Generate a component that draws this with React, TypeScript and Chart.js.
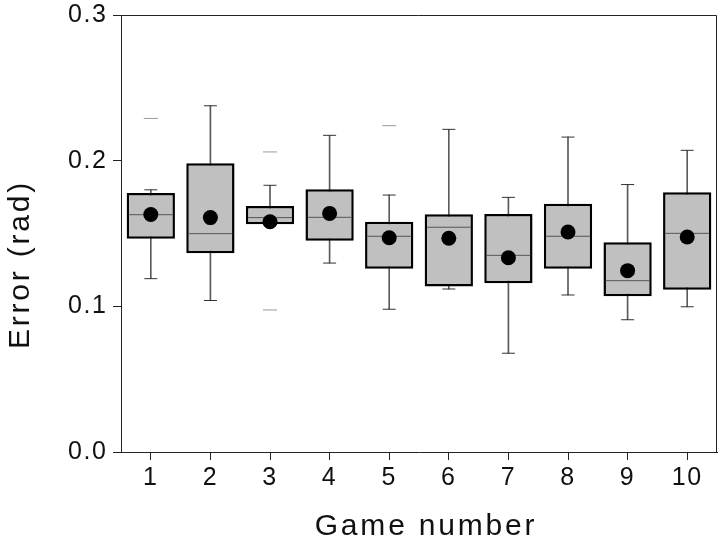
import React, { useEffect, useRef } from 'react';
import { Chart, registerables } from 'chart.js';

Chart.register(...registerables);

// ---- data ----
const games = ['1', '2', '3', '4', '5', '6', '7', '8', '9', '10'];
const whiskerLow = [0.119, 0.104, 0.1563, 0.1297, 0.098, 0.1119, 0.0678, 0.1078, 0.0908, 0.0997];
const q1 = [0.1464, 0.1364, 0.1563, 0.1451, 0.1258, 0.1137, 0.1158, 0.1258, 0.1069, 0.1114];
const medians = [0.1629, 0.1499, 0.1609, 0.1611, 0.1481, 0.1543, 0.135, 0.1481, 0.1176, 0.1501];
const q3 = [0.1778, 0.1982, 0.1689, 0.1803, 0.1581, 0.1632, 0.1634, 0.1705, 0.144, 0.1783];
const whiskerHigh = [0.18, 0.2377, 0.1831, 0.2174, 0.1764, 0.2215, 0.1748, 0.2162, 0.1836, 0.2071];
const means = [0.163, 0.1609, 0.1581, 0.1638, 0.1471, 0.1467, 0.1334, 0.151, 0.1245, 0.1476];
const outlierGames = ['1', '3', '3', '5'];
const outlierValues = [0.229, 0.206, 0.0975, 0.224];
const yMin = 0;
const yMax = 0.3;
const yStep = 0.1;
const xTitle = 'Game number';
const yTitle = 'Error (rad)';

const FONT = '"Liberation Sans", Arial, Helvetica, sans-serif';

export default function App() {
  const ref = useRef<HTMLCanvasElement | null>(null);

  useEffect(() => {
    document.body.style.margin = '0';
    const canvas = ref.current;
    if (!canvas) return;

    const framePlugin = {
      id: 'frameAndTitles',
      beforeDraw(chart: any) {
        const ctx = chart.ctx;
        ctx.fillStyle = '#ffffff';
        ctx.fillRect(0, 0, chart.width, chart.height);
        (ctx as any).letterSpacing = '1.6px';
      },
      afterDraw(chart: any) {
        const ctx = chart.ctx;
        const a = chart.chartArea;
        (ctx as any).letterSpacing = '0px';
        ctx.save();
        ctx.strokeStyle = '#222';
        ctx.lineWidth = 1;
        ctx.beginPath();
        ctx.moveTo(a.left, a.top + 0.5);
        ctx.lineTo(a.right - 0.5, a.top + 0.5);
        ctx.lineTo(a.right - 0.5, a.bottom);
        ctx.stroke();
        ctx.restore();

        ctx.save();
        ctx.fillStyle = '#111';
        ctx.font = '30px ' + FONT;
        (ctx as any).letterSpacing = '2.8px';
        ctx.textAlign = 'center';
        ctx.textBaseline = 'middle';
        ctx.fillText(xTitle, (a.left + a.right) / 2 + 7, 527);
        ctx.translate(21, (a.top + a.bottom) / 2 + 31);
        ctx.rotate(-Math.PI / 2);
        ctx.fillText(yTitle, 0, 0);
        ctx.restore();
      },
    };

    const capStyle = {
      type: 'line' as const,
      showLine: false,
      pointStyle: 'line' as const,
      pointRadius: 6.5,
      pointHoverRadius: 6.5,
      pointBorderColor: '#333',
      pointBorderWidth: 1,
      order: 3,
    };

    const chart = new Chart(canvas, {
      type: 'bar',
      data: {
        labels: games,
        datasets: [
          {
            type: 'line',
            label: 'mean',
            data: means,
            showLine: false,
            pointStyle: 'circle',
            pointRadius: 7.5,
            pointHoverRadius: 7.5,
            pointBackgroundColor: '#000',
            pointBorderColor: '#000',
            pointBorderWidth: 0,
            order: 0,
          },
          {
            type: 'line',
            label: 'median',
            data: medians,
            showLine: false,
            pointStyle: 'line',
            pointRadius: 22,
            pointHoverRadius: 22,
            pointBorderColor: '#555',
            pointBorderWidth: 1,
            order: 1,
          },
          {
            type: 'bar',
            label: 'box',
            data: games.map((_, i) => [q1[i], q3[i]]),
            backgroundColor: '#c0c0c0',
            borderColor: '#000',
            borderWidth: 2.5,
            borderSkipped: false,
            barPercentage: 0.81,
            categoryPercentage: 1,
            grouped: false,
            order: 2,
          },
          {
            ...capStyle,
            label: 'capHigh',
            data: whiskerHigh,
          },
          {
            ...capStyle,
            label: 'capLow',
            data: whiskerLow,
          },
          {
            type: 'line',
            label: 'outliers',
            data: outlierGames.map((g, i) => ({ x: g, y: outlierValues[i] })),
            showLine: false,
            pointStyle: 'line',
            pointRadius: 7,
            pointHoverRadius: 7,
            pointBorderColor: '#9a9a9a',
            pointBorderWidth: 1,
            order: 3,
          },
          {
            type: 'bar',
            label: 'whisker',
            data: games.map((_, i) => [whiskerLow[i], whiskerHigh[i]]),
            backgroundColor: '#5a5a5a',
            borderWidth: 0,
            barThickness: 1,
            grouped: false,
            order: 4,
          },
        ] as any,
      },
      options: {
        responsive: false,
        animation: false,
        events: [],
        layout: { autoPadding: false, padding: { top: 15, right: 3, left: 0, bottom: 0 } },
        plugins: {
          legend: { display: false },
          tooltip: { enabled: false },
          title: { display: false },
        },
        scales: {
          x: {
            type: 'category',
            offset: true,
            afterFit: (scale: any) => {
              scale.height = 92;
              scale.paddingLeft = 0;
              scale.paddingRight = 0;
              scale.paddingTop = 0;
              scale.paddingBottom = 0;
            },
            grid: {
              display: true,
              drawOnChartArea: false,
              drawTicks: true,
              tickLength: 8,
              color: '#222',
              offset: false,
            },
            border: { display: true, color: '#222', width: 1 },
            ticks: {
              color: '#111',
              padding: 6,
              font: { family: FONT, size: 25, lineHeight: 1.0 },
              maxRotation: 0,
            },
            title: { display: false },
          },
          y: {
            type: 'linear',
            min: yMin,
            max: yMax,
            afterFit: (scale: any) => {
              scale.width = 121;
              scale.paddingTop = 0;
              scale.paddingBottom = 0;
              scale.paddingLeft = 0;
              scale.paddingRight = 0;
            },
            grid: {
              display: true,
              drawOnChartArea: false,
              drawTicks: true,
              tickLength: 8,
              color: '#222',
            },
            border: { display: true, color: '#222', width: 1 },
            ticks: {
              stepSize: yStep,
              color: '#111',
              padding: 5.5,
              font: { family: FONT, size: 25, lineHeight: 1.0 },
              callback: (v: any) => Number(v).toFixed(1),
            },
            title: { display: false },
          },
        },
      },
      plugins: [framePlugin],
    });

    return () => {
      chart.destroy();
    };
  }, []);

  return (
    <div style={{ width: 720, height: 544 }}>
      <canvas ref={ref} width={720} height={544} style={{ display: 'block', width: 720, height: 544 }} />
    </div>
  );
}
